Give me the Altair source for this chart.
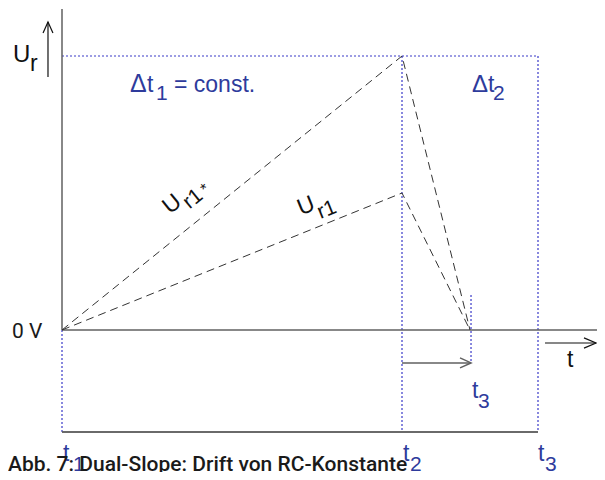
import altair as alt
import pandas as pd

# ---- values (time in units of t2, voltage in units of U_r)
T1, T2, T3 = 0.0, 1.0, 1.4          # t1, t2, t3 (fixed measurement window)
T3_DRIFT = 1.2                      # t3 after drift of RC constant
T3_MARK = 1.203
U_REF = 1.0                         # U_r1* peak
U_R1 = 0.5                          # U_r1 peak
Y_BOTTOM = -0.372                   # lower time line
Y_TOP = 1.1715                      # top of U axis
X_RIGHT = 1.5735                    # right end of 0 V line

# scale layout
X_DOMAIN = [-0.158824, 1.573529]
Y_DOMAIN = [-0.518248, 1.175182]
W, H = 589, 464

BLUE_TXT = "#2e3b9c"
BLUE_DOT = "#3a3ac8"
GRAY = "#606060"

def xe(f="x"):
    return alt.X(f"{f}:Q", scale=alt.Scale(domain=X_DOMAIN, nice=False, zero=False), axis=None)

def ye(f="y"):
    return alt.Y(f"{f}:Q", scale=alt.Scale(domain=Y_DOMAIN, nice=False, zero=False), axis=None)

def line(pts, **kw):
    df = pd.DataFrame(pts, columns=["x", "y"])
    return alt.Chart(df).mark_line(**kw).encode(x=xe(), y=ye())

SOLID = dict(color=GRAY, strokeWidth=1.5)
DOT = dict(color=BLUE_DOT, strokeWidth=1.2, strokeDash=[2, 2])
DASH = dict(color="#333333", strokeWidth=1, strokeDash=[8, 5])

layers = [
    line([(T1, U_REF), (T3, U_REF)], **DOT),
    line([(T2, U_REF), (T2, Y_BOTTOM)], **DOT),
    line([(T3, U_REF), (T3, Y_BOTTOM)], **DOT),
    line([(T1, 0), (T1, Y_BOTTOM)], **DOT),
    line([(T3_MARK, 0.128), (T3_MARK, -0.120)], **DOT),
    line([(T1, Y_TOP), (T1, 0)], **SOLID),
    line([(T1, 0), (X_RIGHT, 0)], **SOLID),
    line([(T1, Y_BOTTOM), (T3, Y_BOTTOM)], **SOLID),
    line([(T1, 0), (T2, U_REF), (T3_DRIFT, 0)], **DASH),
    line([(T1, 0), (T2, U_R1), (T3_DRIFT, 0)], **DASH),
    line([(-0.0412, 0.923), (-0.0412, 1.124)], color="#111111", strokeWidth=1.2),
    line([(1.4206, -0.0474), (1.5706, -0.0474)], color="#111111", strokeWidth=1.2),
    line([(T2, -0.120), (T3_MARK, -0.120)], color=GRAY, strokeWidth=1.5),
]

# lower time line also as a rule from datum values
layers.append(
    alt.Chart(pd.DataFrame({"x": [T1], "x2": [T3], "y": [Y_BOTTOM]})).mark_rule(
        color=GRAY, strokeWidth=1.5
    ).encode(x=xe("x"), x2="x2:Q", y=ye("y"))
)

UP = "M -0.9 2 L 0 0 L 0.9 2"
RIGHT = "M -2 -0.85 L 0 0 L -2 0.85"
RIGHT_S = "M -2 -0.9 L 0 0 L -2 0.9"

def head(x, y, shape, size, color, sw):
    return alt.Chart(pd.DataFrame({"x": [x], "y": [y]})).mark_point(
        shape=shape, filled=False, size=size, color=color, strokeWidth=sw, opacity=1
    ).encode(x=xe(), y=ye())

layers += [
    head(-0.0412, 1.124, UP, 121, "#111111", 1.2),
    head(1.5706, -0.0474, RIGHT, 144, "#111111", 1.2),
    head(T3_MARK, -0.120, RIGHT_S, 121, GRAY, 1.5),
]

# ---- text labels
lab_left = pd.DataFrame([
    (-0.1441, 0.9781, "U", 24, "#111111"),
    (-0.0941, 0.9453, "r", 23, "#111111"),
    (0.2000, 0.8686, "Δ", 25, BLUE_TXT),
    (0.2500, 0.8686, "t", 23, BLUE_TXT),
    (0.2765, 0.8394, "1", 21, BLUE_TXT),
    (0.3294, 0.8686, "= const.", 23, BLUE_TXT),
    (1.2059, 0.8686, "Δ", 24, BLUE_TXT),
    (1.2529, 0.8686, "t", 23, BLUE_TXT),
    (1.2676, 0.8394, "2", 21, BLUE_TXT),
    (1.4853, -0.1350, "t", 23, "#111111"),
    (1.2059, -0.2482, "t", 23, BLUE_TXT),
    (1.2235, -0.2847, "3", 21, BLUE_TXT),
    (0.0029, -0.4781, "t", 23, BLUE_TXT),
    (0.0324, -0.5146, "1", 21, BLUE_TXT),
    (1.0029, -0.4781, "t", 23, BLUE_TXT),
    (1.0235, -0.5146, "2", 21, BLUE_TXT),
    (1.4000, -0.4781, "t", 23, BLUE_TXT),
    (1.4206, -0.5146, "3", 21, BLUE_TXT),
], columns=["x", "y", "text", "size", "color"])

lab_rot = pd.DataFrame([
    (0.3235, 0.4599, "U", 23, 321),
    (0.3853, 0.4781, "r1", 21, 321),
    (0.4206, 0.5146, "*", 16, 321),
    (0.7176, 0.4526, "U", 23, 338),
    (0.7794, 0.4380, "r1", 21, 338),
], columns=["x", "y", "text", "size", "angle"])

lab_zero = pd.DataFrame([(-0.1471, -0.0292, "0 V", 21)], columns=["x", "y", "text", "size"])
lab_cap = pd.DataFrame([
    (-0.1588, -0.5146, "Abb. 7: Dual-Slope: Drift von RC-Konstante", 21),
], columns=["x", "y", "text", "size"])

t_left = alt.Chart(lab_left).mark_text(
    align="left", baseline="alphabetic", font="Liberation Sans"
).encode(
    x=xe(), y=ye(), text="text:N",
    size=alt.Size("size:Q", scale=None),
    color=alt.Color("color:N", scale=None),
)

t_rot = alt.Chart(lab_rot).mark_text(
    align="center", baseline="middle", font="Liberation Sans", color="#111111"
).encode(
    x=xe(), y=ye(), text="text:N",
    size=alt.Size("size:Q", scale=None),
    angle=alt.Angle("angle:Q", scale=None),
)

t_zero = alt.Chart(lab_zero).mark_text(
    align="left", baseline="alphabetic", font="Roboto", fontWeight=400, color="#1a1a1a"
).encode(x=xe(), y=ye(), text="text:N", size=alt.Size("size:Q", scale=None))

t_cap = alt.Chart(lab_cap).mark_text(
    align="left", baseline="alphabetic", font="Roboto", fontWeight=500, color="#1a1a1a"
).encode(x=xe(), y=ye(), text="text:N", size=alt.Size("size:Q", scale=None))

layers += [t_left, t_rot, t_zero, t_cap]

chart = alt.layer(*layers).properties(
    width=W, height=H, padding=0,
    autosize=alt.AutoSizeParams(type="none"),
).configure_view(stroke=None)

chart.save("out.html", embed_options={"renderer": "svg", "actions": False})
